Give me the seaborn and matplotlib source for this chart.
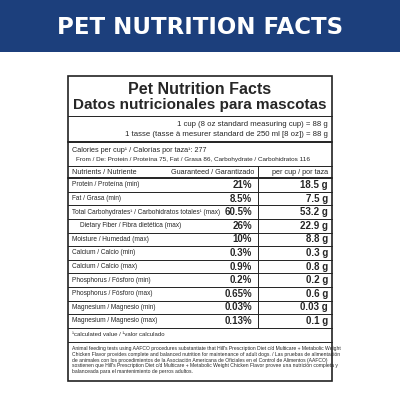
import matplotlib
matplotlib.use("Agg")
import matplotlib.pyplot as plt
import seaborn as sns

sns.set_theme(style="white")
plt.rcParams['font.family'] = ['Liberation Sans Narrow', 'Liberation Sans', 'DejaVu Sans']

BANNER = "#1c3f7c"

nutrients = ["Protein / Proteína (min)", "Fat / Grasa (min)",
             "Total Carbohydrates¹ / Carbohidratos totales¹ (max)",
             "Dietary Fiber / Fibra dietética (max)", "Moisture / Humedad (max)",
             "Calcium / Calcio (min)", "Calcium / Calcio (max)",
             "Phosphorus / Fósforo (min)", "Phosphorus / Fósforo (max)",
             "Magnesium / Magnesio (min)", "Magnesium / Magnesio (max)"]
guaranteed = ["21%", "8.5%", "60.5%", "26%", "10%", "0.3%", "0.9%", "0.2%", "0.65%", "0.03%", "0.13%"]
per_cup = ["18.5 g", "7.5 g", "53.2 g", "22.9 g", "8.8 g", "0.3 g", "0.8 g", "0.2 g", "0.6 g", "0.03 g", "0.1 g"]
indented = [False, False, False, True, False, False, False, False, False, False, False]

disclaimer = ("Animal feeding tests using AAFCO procedures substantiate that Hill's Prescription Diet c/d Multicare + Metabolic Weight\n"
              "Chicken Flavor provides complete and balanced nutrition for maintenance of adult dogs. / Las pruebas de alimentación\n"
              "de animales con los procedimientos de la Asociación Americana de Oficiales en el Control de Alimentos (AAFCO)\n"
              "sostienen que Hill's Prescription Diet c/d Multicare + Metabolic Weight Chicken Flavor provee una nutrición completa y\n"
              "balanceada para el mantenimiento de perros adultos.")

fig = plt.figure(figsize=(4, 4), dpi=100)
ax = fig.add_axes([0, 0, 1, 1])
ax.set_xlim(0, 400)
ax.set_ylim(400, 0)
ax.axis('off')

# banner
ax.add_patch(plt.Rectangle((0, 0), 400, 52, color=BANNER, lw=0))
ax.text(200, 27, "PET NUTRITION FACTS", color="white", fontsize=16.5, fontweight="heavy",
        ha="center", va="center", family=['DejaVu Sans'])

L, R, T, B = 68, 332, 76, 381
ax.add_patch(plt.Rectangle((L, T), R - L, B - T, fill=False, ec="#222", lw=1.2))

def hline(y, lw=0.7):
    ax.plot([L, R], [y, y], color="#222", lw=lw)

ax.text(200, 89, "Pet Nutrition Facts", fontsize=11.5, fontweight="bold", ha="center", va="center")
ax.text(200, 105, "Datos nutricionales para mascotas", fontsize=11, fontweight="bold", ha="center", va="center")
hline(116)
ax.text(328, 124, "1 cup (8 oz standard measuring cup) = 88 g", fontsize=5.6, ha="right", va="center")
ax.text(328, 134, "1 tasse (tasse à mesurer standard de 250 ml [8 oz]) = 88 g", fontsize=5.6, ha="right", va="center")
hline(142, 1.4)
ax.text(72, 150, "Calories per cup¹ / Calorías por taza¹: 277", fontsize=5.2, ha="left", va="center")
ax.text(76, 160, "From / De: Protein / Proteína 75, Fat / Grasa 86, Carbohydrate / Carbohidratos 116",
        fontsize=4.6, ha="left", va="center")
hline(166)
ax.text(72, 172, "Nutrients / Nutriente", fontsize=5.2, ha="left", va="center")
ax.text(254, 172, "Guaranteed / Garantizado", fontsize=5.2, ha="right", va="center")
ax.text(328, 172, "per cup / por taza", fontsize=5.2, ha="right", va="center")
hline(178, 1.4)

y0, step = 185, 13.6
for i, (n, g, c, ind) in enumerate(zip(nutrients, guaranteed, per_cup, indented)):
    y = y0 + i * step
    ax.text(80 if ind else 72, y, n, fontsize=4.7, ha="left", va="center")
    ax.text(252, y, g, fontsize=7, fontweight="bold", ha="right", va="center")
    ax.text(328, y, c, fontsize=7, fontweight="bold", ha="right", va="center")
    hline(y + step / 2)
ax.plot([258, 258], [166, y0 + 10.5 * step], color="#222", lw=0.7)

ax.text(72, 334, "¹calculated value / ¹valor calculado", fontsize=4.3, ha="left", va="center")
hline(342)
ax.text(72, 346, disclaimer, fontsize=3.6, ha="left", va="top", linespacing=1.2)

fig.savefig("out.png", dpi=100, facecolor="white")
